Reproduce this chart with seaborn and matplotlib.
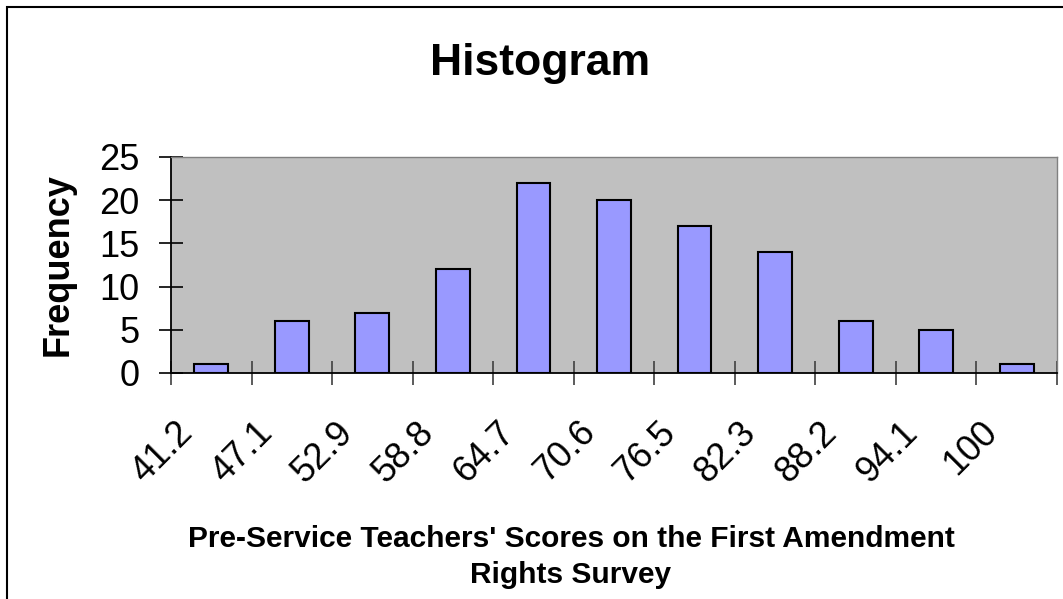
import numpy as np
import matplotlib
matplotlib.use("Agg")
import matplotlib.pyplot as plt
import matplotlib.transforms as mtransforms
from matplotlib.patches import Rectangle
import seaborn as sns

# data
bins = ["41.2", "47.1", "52.9", "58.8", "64.7", "70.6", "76.5", "82.3", "88.2", "94.1", "100"]
freq = [1, 6, 7, 12, 22, 20, 17, 14, 6, 5, 1]
y_ticks = [0, 5, 10, 15, 20, 25]

sns.set_style("white")
plt.rcParams["font.family"] = ["Liberation Sans", "DejaVu Sans"]
plt.rcParams["text.color"] = "black"
plt.rcParams["axes.labelcolor"] = "black"
plt.rcParams["xtick.color"] = "black"
plt.rcParams["ytick.color"] = "black"

W, H = 1063, 599
fig = plt.figure(figsize=(W / 100, H / 100), dpi=100)
ax = fig.add_axes([171 / W, 1 - 373 / H, (1057 - 171) / W, (373 - 157) / H])

sns.barplot(x=bins, y=freq, ax=ax, color="#9999FF", width=0.42,
            edgecolor="black", linewidth=1.5, saturation=1)

ax.set_facecolor("#C0C0C0")
ax.set_xlim(-0.5, len(bins) - 0.5)
ax.set_ylim(0, 25)
ax.set_yticks(y_ticks)

for s in ["left", "bottom"]:
    ax.spines[s].set_color("black")
    ax.spines[s].set_linewidth(1.3)
for s in ["top", "right"]:
    ax.spines[s].set_color("#808080")
    ax.spines[s].set_linewidth(1.0)
    ax.spines[s].set_visible(True)

# y ticks cross the axis
ax.tick_params(axis="y", direction="inout", length=17, width=1.2,
               colors="black", labelsize=26, pad=14, left=True)
# x: labels at centers, ticks at category boundaries
ax.tick_params(axis="x", which="major", length=0, labelsize=26,
               labelcolor="black", pad=30)
ax.set_xticks(np.arange(-0.5, len(bins), 1), minor=True)
ax.tick_params(axis="x", which="minor", direction="inout", length=17,
               width=1.2, color="#404040", bottom=True)

offset = mtransforms.ScaledTranslation(-12 / 100, 0, fig.dpi_scale_trans)
for lab in ax.get_xticklabels():
    lab.set_rotation(45)
    lab.set_ha("right")
    lab.set_va("top")
    lab.set_transform(lab.get_transform() + offset)

ax.set_ylabel("Frequency", fontsize=26, fontweight="bold", color="black")
ax.yaxis.label.set_va("center")
ax.yaxis.set_label_coords((58 - 171) / 886, 0.5)

ax.set_xlabel("Pre-Service Teachers' Scores on the First Amendment\nRights Survey",
              fontsize=21.5, fontweight="bold", linespacing=1.38, color="black")
ax.xaxis.label.set_va("top")
ax.xaxis.set_label_coords((571 - 171) / 886, (373 - 525) / 216)

fig.text(540 / W, 1 - 75 / H, "Histogram", ha="center", va="baseline",
         fontsize=32, fontweight="bold", color="black")

# chart-area border
fig.patches.append(Rectangle((7 / W, -0.05), 1.1, 1 - 7 / H + 0.05,
                             transform=fig.transFigure, fill=False,
                             edgecolor="black", linewidth=1.5))

fig.savefig("out.png", dpi=100)
